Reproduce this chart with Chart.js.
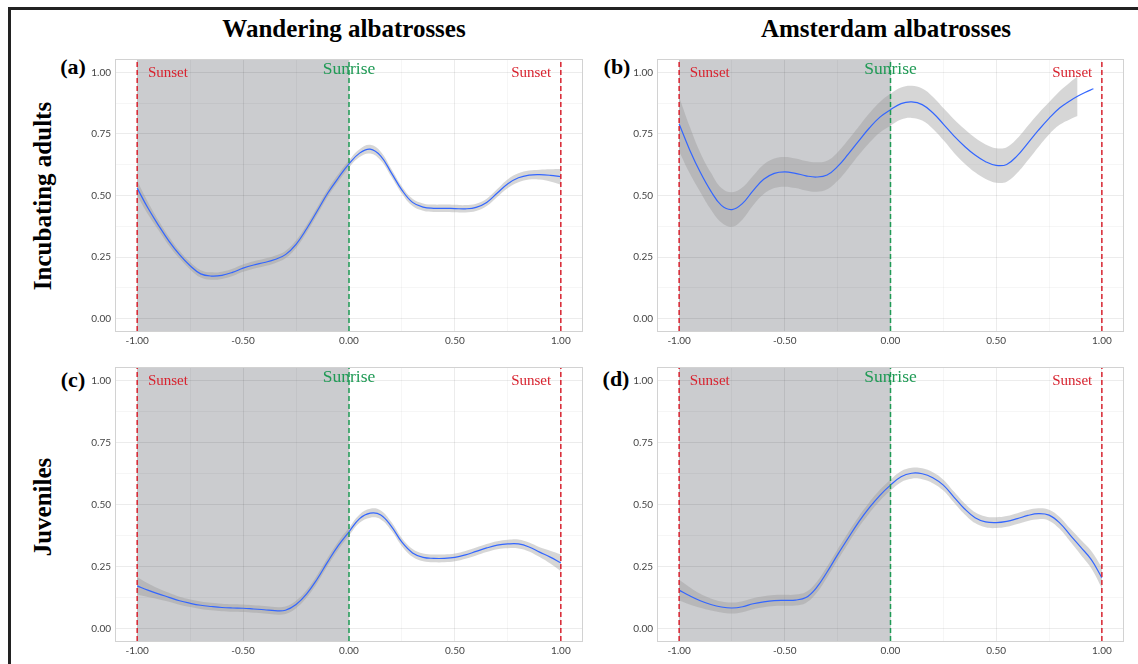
<!DOCTYPE html>
<html>
<head>
<meta charset="utf-8">
<script src="https://cdn.jsdelivr.net/npm/chart.js@4.4.0/dist/chart.umd.min.js"></script>
<style>
  html,body{margin:0;padding:0;background:#fff;}
  body{width:1138px;height:664px;overflow:hidden;position:relative;}
  .frame{position:absolute;left:8px;top:7px;width:1200px;height:700px;border-top:3px solid #222;border-left:3px solid #222;}
  .t{position:absolute;transform:translate(-50%,-50%);font-family:"Liberation Serif","DejaVu Serif",serif;font-weight:bold;color:#000;white-space:nowrap;line-height:1;}
  .title{font-size:25px;}
  .row{font-size:25px;transform:translate(-50%,-50%) rotate(-90deg);}
  .pl{font-size:22px;}
  canvas{position:absolute;}
</style>
</head>
<body>
<div class="frame"></div>
<div class="t title" style="left:344px;top:28px">Wandering albatrosses</div>
<div class="t title" style="left:886px;top:28px">Amsterdam albatrosses</div>
<div class="t row" style="left:42px;top:196px">Incubating adults</div>
<div class="t row" style="left:42px;top:507px">Juveniles</div>
<div class="t pl" style="left:73px;top:67px">(a)</div>
<div class="t pl" style="left:617px;top:67px">(b)</div>
<div class="t pl" style="left:73px;top:380px">(c)</div>
<div class="t pl" style="left:616px;top:379px">(d)</div>
<canvas id="ca"></canvas>
<canvas id="cb"></canvas>
<canvas id="cc"></canvas>
<canvas id="cd"></canvas>
<script>
// ---- data ----
const xs = [-1.00,-0.95,-0.90,-0.85,-0.80,-0.75,-0.70,-0.65,-0.60,-0.55,-0.50,-0.45,-0.40,-0.35,-0.30,-0.25,-0.20,-0.15,-0.10,-0.05,
            0.00,0.05,0.10,0.15,0.20,0.25,0.30,0.35,0.40,0.45,0.50,0.55,0.60,0.65,0.70,0.75,0.80,0.85,0.90,0.95,1.00];

// (a) Wandering albatrosses, incubating adults
const aMid = [0.53,0.45,0.38,0.315,0.26,0.215,0.182,0.173,0.176,0.188,0.205,0.218,0.228,0.24,0.26,0.302,0.365,0.437,0.51,0.572,
              0.628,0.672,0.688,0.66,0.592,0.522,0.472,0.453,0.448,0.448,0.447,0.446,0.452,0.472,0.51,0.548,0.572,0.583,0.585,0.582,0.576];
const aSe  = [0.03,0.025,0.02,0.018,0.016,0.015,0.015,0.015,0.015,0.015,0.015,0.015,0.015,0.015,0.015,0.015,0.015,0.015,0.015,0.015,
              0.015,0.016,0.018,0.018,0.016,0.015,0.015,0.015,0.015,0.015,0.015,0.015,0.015,0.015,0.016,0.018,0.018,0.018,0.02,0.025,0.032];

// (b) Amsterdam albatrosses, incubating adults
const bX   = [-1.00,-0.95,-0.90,-0.85,-0.80,-0.75,-0.70,-0.65,-0.60,-0.55,-0.50,-0.45,-0.40,-0.35,-0.30,-0.25,-0.20,-0.15,-0.10,-0.05,
              0.00,0.05,0.10,0.15,0.20,0.25,0.30,0.35,0.40,0.45,0.50,0.55,0.60,0.65,0.70,0.75,0.80,0.85,0.885,0.92,0.96];
const bMid = [0.79,0.685,0.594,0.518,0.46,0.443,0.468,0.52,0.566,0.59,0.596,0.59,0.58,0.575,0.583,0.618,0.668,0.722,0.774,0.818,
              0.848,0.873,0.88,0.869,0.836,0.79,0.742,0.70,0.664,0.637,0.622,0.626,0.662,0.713,0.765,0.813,0.855,0.885,0.903,0.918,0.933];
const bSe  = [0.11,0.095,0.08,0.075,0.07,0.07,0.065,0.06,0.06,0.06,0.06,0.06,0.06,0.06,0.058,0.058,0.058,0.058,0.06,0.062,
              0.065,0.065,0.065,0.065,0.065,0.065,0.068,0.07,0.07,0.07,0.07,0.07,0.07,0.07,0.068,0.065,0.068,0.075,0.08,null,null];

// (c) Wandering albatrosses, juveniles
const cMid = [0.172,0.155,0.14,0.126,0.112,0.102,0.094,0.089,0.085,0.083,0.082,0.079,0.076,0.072,0.074,0.097,0.14,0.2,0.27,0.335,
              0.39,0.443,0.465,0.458,0.412,0.348,0.305,0.287,0.283,0.283,0.287,0.297,0.311,0.325,0.336,0.341,0.341,0.329,0.308,0.288,0.265];
const cSe  = [0.035,0.028,0.022,0.018,0.016,0.015,0.015,0.015,0.015,0.015,0.015,0.015,0.015,0.015,0.015,0.015,0.015,0.016,0.016,0.016,
              0.016,0.017,0.018,0.018,0.017,0.016,0.016,0.016,0.016,0.016,0.016,0.016,0.016,0.016,0.016,0.017,0.018,0.018,0.02,0.026,0.034];

// (d) Amsterdam albatrosses, juveniles
const dMid = [0.155,0.132,0.112,0.097,0.087,0.083,0.088,0.10,0.108,0.113,0.114,0.115,0.125,0.165,0.228,0.298,0.365,0.43,0.487,0.537,
              0.578,0.612,0.626,0.624,0.608,0.578,0.53,0.483,0.447,0.43,0.427,0.432,0.443,0.456,0.463,0.457,0.426,0.377,0.328,0.278,0.205];
const dSe  = [0.042,0.035,0.028,0.024,0.022,0.022,0.022,0.022,0.022,0.022,0.022,0.022,0.022,0.022,0.022,0.022,0.022,0.022,0.022,0.022,
              0.022,0.022,0.022,0.022,0.022,0.022,0.022,0.022,0.022,0.022,0.022,0.022,0.022,0.022,0.022,0.022,0.024,0.026,0.03,0.035,0.042];

// axes
const xTickVals   = [-1, -0.5, 0, 0.5, 1];
const xTickLabels = ['-1.00', '-0.50', '0.00', '0.50', '1.00'];
const xMinorVals  = [-0.75, -0.25, 0.25, 0.75];
const yTickVals   = [0, 0.25, 0.5, 0.75, 1];
const yTickLabels = ['0.00', '0.25', '0.50', '0.75', '1.00'];
const yMinorVals  = [0.125, 0.375, 0.625, 0.875];

// night shading and reference lines
const nightRange  = [-1, 0];
const refLineX    = [-1, 0, 1];
const refLineCol  = ['#d8232f', '#1f9a55', '#d8232f'];
const markText    = ['Sunset', 'Sunrise', 'Sunset'];
const markX       = [-0.855, 0, 0.86];
const markY       = [0.982, 0.995, 0.98];
const markSize    = [15, 17.5, 15];

// ---- layout (plot-area boxes: left, top, right, bottom) ----
const panels = [
  {id:'ca', x:xs, mid:aMid, se:aSe, box:[116, 59, 582, 331]},
  {id:'cb', x:bX, mid:bMid, se:bSe, box:[658, 59, 1123, 331]},
  {id:'cc', x:xs, mid:cMid, se:cSe, box:[116, 367, 582, 641]},
  {id:'cd', x:xs, mid:dMid, se:dSe, box:[658, 367, 1123, 641]}
];

const PADL = 45, PADT = 10, PADR = 8, PADB = 24;

const decor = {
  id: 'decor',
  beforeDraw(chart) {
    const {ctx, chartArea: a, scales: {x}} = chart;
    const x0 = x.getPixelForValue(nightRange[0]);
    const x1 = x.getPixelForValue(nightRange[1]);
    ctx.save();
    ctx.fillStyle = '#cbcccf';
    ctx.fillRect(x0, a.top, x1 - x0, a.bottom - a.top);
    ctx.restore();
  },
  afterDraw(chart) {
    const {ctx, chartArea: a, scales: {x, y}} = chart;
    ctx.save();
    ctx.textAlign = 'center';
    ctx.textBaseline = 'alphabetic';
    markText.forEach((t, i) => {
      ctx.font = markSize[i] + 'px "Liberation Serif", "DejaVu Serif", serif';
      ctx.fillStyle = refLineCol[i];
      ctx.fillText(t, x.getPixelForValue(markX[i]), y.getPixelForValue(markY[i]));
    });
    ctx.strokeStyle = '#d2d2d2';
    ctx.lineWidth = 1;
    ctx.strokeRect(Math.round(a.left) - 0.5, Math.round(a.top) - 0.5, Math.round(a.right - a.left) + 1, Math.round(a.bottom - a.top) + 1);
    ctx.restore();
  }
};

function buildChart(p) {
  const [l, t, r, b] = p.box;
  const cv = document.getElementById(p.id);
  const w = r - l + PADL + PADR, h = b - t + PADT + PADB;
  cv.width = w; cv.height = h;
  cv.style.width = w + 'px'; cv.style.height = h + 'px';
  cv.style.left = (l - PADL) + 'px'; cv.style.top = (t - PADT) + 'px';

  const pts = (arr) => p.x.map((xv, i) => ({x: xv, y: arr[i]}));
  const upper = p.x.map((xv, i) => ({x: xv, y: p.se[i] == null ? null : p.mid[i] + p.se[i]}));
  const lower = p.x.map((xv, i) => ({x: xv, y: p.se[i] == null ? null : p.mid[i] - p.se[i]}));

  const datasets = [
    {data: upper, borderWidth: 0, pointRadius: 0, fill: '+1', backgroundColor: 'rgba(153,153,153,0.4)', tension: 0.4, order: 3},
    {data: lower, borderWidth: 0, pointRadius: 0, fill: false, tension: 0.4, order: 3},
    {data: pts(p.mid), borderColor: '#3366ff', borderWidth: 1.2, pointRadius: 0, fill: false, tension: 0.4, order: 2}
  ];
  refLineX.forEach((xv, i) => {
    datasets.push({data: [{x: xv, y: -0.05}, {x: xv, y: 1.05}], borderColor: refLineCol[i], borderWidth: 1.5,
      borderDash: [5, 3], pointRadius: 0, fill: false, tension: 0, order: 1});
  });

  const xAll = xTickVals.concat(xMinorVals).sort((m, n) => m - n);
  const yAll = yTickVals.concat(yMinorVals).sort((m, n) => m - n);
  const isMajorX = v => xTickVals.some(u => Math.abs(u - v) < 1e-9);
  const isMajorY = v => yTickVals.some(u => Math.abs(u - v) < 1e-9);

  new Chart(cv, {
    type: 'line',
    data: {datasets},
    options: {
      responsive: false, animation: false, devicePixelRatio: 1,
      layout: {padding: {left: 0, top: PADT, right: PADR, bottom: 0}},
      plugins: {legend: {display: false}, tooltip: {enabled: false}},
      scales: {
        x: {
          type: 'linear', min: -1.1, max: 1.1,
          afterBuildTicks: s => { s.ticks = xAll.map(v => ({value: v})); },
          afterFit: s => { s.height = PADB; },
          border: {display: false},
          grid: {drawTicks: false, color: c => isMajorX(c.tick.value) ? 'rgba(0,0,0,0.075)' : 'rgba(0,0,0,0.035)', lineWidth: 1},
          ticks: {
            autoSkip: false, maxRotation: 0, padding: 4, color: '#444',
            font: {family: 'Lato, "Open Sans", sans-serif', size: 10},
            callback: v => { const k = xTickVals.findIndex(u => Math.abs(u - v) < 1e-9); return k >= 0 ? xTickLabels[k] : ''; }
          }
        },
        y: {
          type: 'linear', min: -0.05, max: 1.05,
          afterBuildTicks: s => { s.ticks = yAll.map(v => ({value: v})); },
          afterFit: s => { s.width = PADL; },
          border: {display: false},
          grid: {drawTicks: false, color: c => isMajorY(c.tick.value) ? 'rgba(0,0,0,0.075)' : 'rgba(0,0,0,0.035)', lineWidth: 1},
          ticks: {
            autoSkip: false, padding: 5, color: '#444',
            font: {family: 'Lato, "Open Sans", sans-serif', size: 10},
            callback: v => { const k = yTickVals.findIndex(u => Math.abs(u - v) < 1e-9); return k >= 0 ? yTickLabels[k] : ''; }
          }
        }
      }
    },
    plugins: [decor]
  });
}

panels.forEach(buildChart);
</script>
</body>
</html>
